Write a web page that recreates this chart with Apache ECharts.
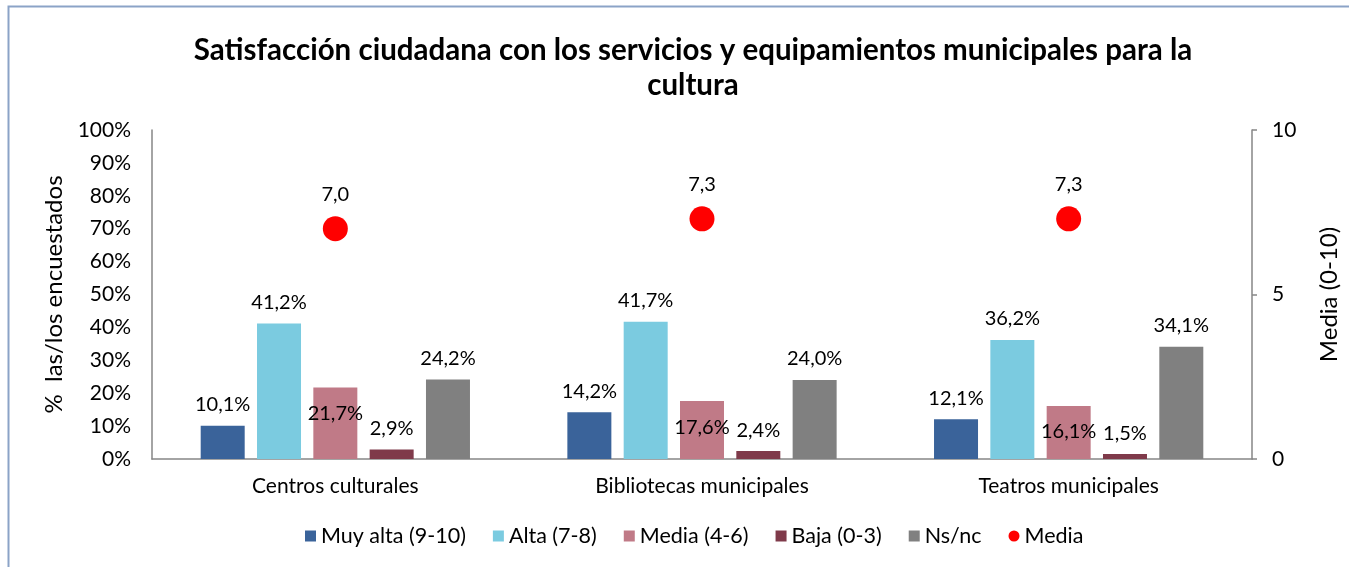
<!DOCTYPE html>
<html>
<head>
<meta charset="utf-8">
<script src="https://cdn.jsdelivr.net/npm/echarts@6/dist/echarts.min.js"></script>
<style>
html,body{margin:0;padding:0;background:#fff;}
#c{width:1349px;height:567px;}
</style>
</head>
<body>
<div id="c"></div>
<script>
var categories = ['Centros culturales', 'Bibliotecas municipales', 'Teatros municipales'];
var muyAlta = [10.1, 14.2, 12.1];
var alta = [41.2, 41.7, 36.2];
var mediaRango = [21.7, 17.6, 16.1];
var baja = [2.9, 2.4, 1.5];
var nsnc = [24.2, 24.0, 34.1];
var mediaPuntos = [7.0, 7.3, 7.3];
var seriesNames = ['Muy alta (9-10)', 'Alta (7-8)', 'Media (4-6)', 'Baja (0-3)', 'Ns/nc', 'Media'];
var colors = ['#3A639A', '#7BCBE0', '#C07A87', '#7F3A4A', '#808080', '#FF0000'];

var FONT = 'Lato';
function pct(p){ return p.value.toFixed(1).replace('.', ',') + '%'; }

function barSeries(i, data, labelCfg){
  return {
    name: seriesNames[i], type: 'bar', data: data,
    barWidth: 44, barGap: '28%',
    itemStyle: { color: colors[i] },
    label: Object.assign({ show: true, position: 'top', distance: 11, formatter: pct,
      color: '#000', fontSize: 20, fontFamily: FONT }, labelCfg || {})
  };
}

var chart = echarts.init(document.getElementById('c'), null, { renderer: 'canvas' });
chart.setOption({
  animation: false,
  textStyle: { fontFamily: FONT },
  graphic: [{
    type: 'rect', shape: { x: 8.5, y: 6.5, width: 1400, height: 700 },
    style: { fill: 'none', stroke: '#8BA3C7', lineWidth: 2 }, silent: true
  }],
  title: {
    text: 'Satisfacción ciudadana con los servicios y equipamientos municipales para la\ncultura',
    left: 688, top: 28, textAlign: 'center',
    textStyle: { fontFamily: FONT, fontWeight: 'bold', fontSize: 29.5, lineHeight: 35, color: '#000' }
  },
  legend: {
    bottom: 15, left: 300, orient: 'horizontal',
    itemWidth: 11, itemHeight: 11, itemGap: 27,
    textStyle: { fontFamily: FONT, fontSize: 21.5, color: '#000' },
    data: seriesNames.map(function(n, i){ return { name: n, icon: i === 5 ? 'circle' : 'rect' }; })
  },
  grid: { left: 152, right: 96, top: 130, bottom: 108 },
  xAxis: {
    type: 'category', data: categories,
    axisLine: { lineStyle: { color: '#868686', width: 1.5 } },
    axisTick: { show: false },
    axisLabel: { color: '#000', fontSize: 21, fontFamily: FONT, margin: 17 }
  },
  yAxis: [{
    type: 'value', min: 0, max: 100, interval: 10,
    name: '%  las/los encuestados', nameLocation: 'middle', nameRotate: 90, nameGap: 85,
    nameTextStyle: { color: '#000', fontSize: 24, fontFamily: FONT },
    axisLine: { show: true, lineStyle: { color: '#868686', width: 1.5 } },
    axisTick: { show: false },
    splitLine: { show: false },
    axisLabel: { color: '#000', fontSize: 21, fontFamily: FONT, margin: 21, formatter: '{value}%' }
  }, {
    type: 'value', min: 0, max: 10, interval: 5, position: 'right',
    name: 'Media (0-10)', nameLocation: 'middle', nameRotate: 90, nameGap: 65,
    nameTextStyle: { color: '#000', fontSize: 24, fontFamily: FONT },
    axisLine: { show: true, lineStyle: { color: '#868686', width: 1.5 } },
    axisTick: { show: true, inside: false, length: 5, lineStyle: { color: '#868686', width: 1.5 } },
    splitLine: { show: false },
    axisLabel: { color: '#000', fontSize: 21, fontFamily: FONT, margin: 20 }
  }],
  series: [
    barSeries(0, muyAlta),
    barSeries(1, alta),
    barSeries(2, mediaRango, { position: 'insideTop', distance: 16 }),
    barSeries(3, baja),
    barSeries(4, nsnc),
    {
      name: seriesNames[5], type: 'scatter', yAxisIndex: 1, data: mediaPuntos,
      symbol: 'circle', symbolSize: 25, itemStyle: { color: colors[5], opacity: 1 },
      label: { show: true, position: 'top', distance: 12, color: '#000', fontSize: 20, fontFamily: FONT,
        formatter: function(p){ return p.value.toFixed(1).replace('.', ','); } }
    }
  ]
});
</script>
</body>
</html>
